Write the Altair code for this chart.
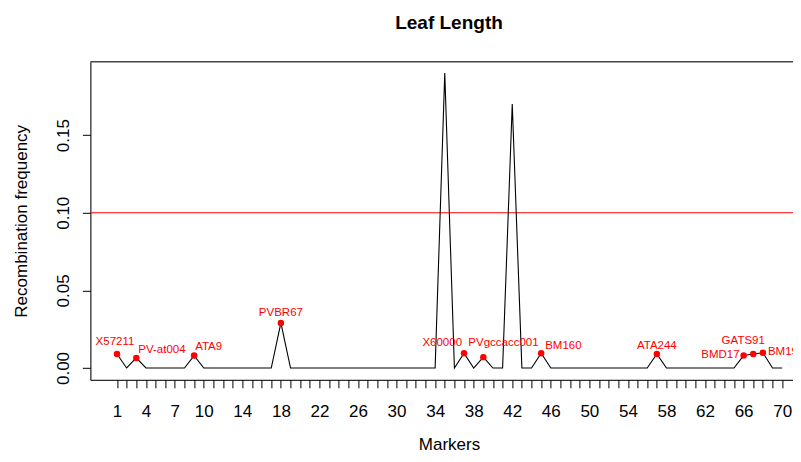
import altair as alt
import pandas as pd

# ---- data ----
markers = list(range(1, 71))
recomb = [0.009, 0, 0.0065, 0, 0, 0, 0, 0, 0.008, 0,
          0, 0, 0, 0, 0, 0, 0, 0.029, 0, 0,
          0, 0, 0, 0, 0, 0, 0, 0, 0, 0,
          0, 0, 0, 0, 0.19, 0, 0.0095, 0, 0.007, 0,
          0, 0.170, 0, 0, 0.0095, 0, 0, 0, 0, 0,
          0, 0, 0, 0, 0, 0, 0.009, 0, 0, 0,
          0, 0, 0, 0, 0, 0.008, 0.009, 0.0098, 0, 0]
label_markers = [1, 3, 9, 18, 37, 39, 45, 57, 66, 67, 68]
label_names = ["X57211", "PV-at004", "ATA9", "PVBR67", "X60000", "PVgccacc001",
               "BM160", "ATA244", "BMD17", "GATS91", "BM197"]
threshold = [0.10]
x_tick_labels = [1, 4, 7, 10, 14, 18, 22, 26, 30, 34, 38, 42, 46, 50, 54, 58, 62, 66, 70]
y_ticks = [0.0, 0.05, 0.10, 0.15]

# ---- styling: label placement (align, dx, dy) ----
label_style = {
    "X57211": ("center", -2, -12),
    "PV-at004": ("left", 2, -8),
    "ATA9": ("left", 1, -9),
    "PVBR67": ("center", 0, -10),
    "X60000": ("right", -2, -10),
    "PVgccacc001": ("left", -15, -14),
    "BM160": ("left", 4, -7),
    "ATA244": ("center", 0, -8),
    "BMD17": ("right", -4, -1),
    "GATS91": ("center", -10, -13),
    "BM197": ("left", 5, -1),
}

FONT = "Liberation Sans"
PAD_L, PAD_T = 82.4, 53.8
SVG_W, SVG_H = 785, 445
W = SVG_W - PAD_L
H = 318
PX_PER_MARKER = 9.64
X_MIN = -1.76
X_MAX = X_MIN + W / PX_PER_MARKER
CENTER_X = 358.6  # centre of the (wider) original plot region, from plot left

line_df = pd.DataFrame({"marker": markers, "rf": recomb})
pts_df = pd.DataFrame({
    "marker": label_markers,
    "rf": [recomb[m - 1] for m in label_markers],
    "name": label_names,
})
thr_df = pd.DataFrame({"rf": threshold})

x_scale = alt.Scale(domain=[X_MIN, X_MAX], nice=False, zero=False)
y_scale = alt.Scale(domain=[-0.0076, 0.1972], nice=False, zero=False)

label_list = ",".join(str(v) for v in x_tick_labels)
x_axis = alt.Axis(
    values=markers,
    labelExpr=f"indexof([{label_list}], datum.value) >= 0 ? datum.label : ''",
    labelOverlap=False, labelFlush=False, labelBound=False,
    grid=False, domain=True, domainColor="black", domainWidth=1,
    tickSize=8, tickColor="black", tickWidth=1,
    labelFont=FONT, labelFontSize=17, labelColor="black",
    labelBaseline="alphabetic", labelPadding=29,
    title="Markers", titleFont=FONT, titleFontSize=17, titleFontWeight="normal",
    titleColor="black", titleBaseline="alphabetic", titleY=70, titleX=CENTER_X,
    titleAlign="center",
)
y_axis = alt.Axis(
    values=y_ticks, format=".2f",
    grid=False, domain=True, domainColor="black", domainWidth=1,
    tickSize=8, tickColor="black", tickWidth=1,
    labelFont=FONT, labelFontSize=17, labelColor="black",
    labelAngle=270, labelAlign="center", labelBaseline="alphabetic", labelPadding=14,
    title="Recombination frequency", titleFont=FONT, titleFontSize=17,
    titleFontWeight="normal", titleColor="black", titleAngle=270,
    titleAlign="center", titleBaseline="alphabetic", titleX=-64, titleY=H / 2,
)


def xenc():
    return alt.X("marker:Q", scale=x_scale, axis=x_axis, title="Markers")


def yenc():
    return alt.Y("rf:Q", scale=y_scale, axis=y_axis, title="Recombination frequency")


line = alt.Chart(line_df).mark_line(color="black", strokeWidth=1.1).encode(x=xenc(), y=yenc())
thr = alt.Chart(thr_df).mark_rule(color="#FF0000", strokeWidth=1.2).encode(y=yenc())
pts = alt.Chart(pts_df).mark_circle(color="#FF0000", size=42, opacity=1).encode(x=xenc(), y=yenc())
top_border = alt.Chart(thr_df).mark_rule(color="black", strokeWidth=1).encode(
    x=alt.value(0), x2=alt.value(W), y=alt.value(0)
)

texts = []
for nm in label_names:
    al, dx, dy = label_style[nm]
    texts.append(
        alt.Chart(pts_df).transform_filter(alt.datum.name == nm)
        .mark_text(align=al, baseline="middle", dx=dx, dy=dy, font=FONT,
                   fontSize=11.5, color="#FF0000")
        .encode(x=xenc(), y=yenc(), text="name:N")
    )

chart = alt.layer(thr, line, pts, top_border, *texts).properties(
    width=W, height=H,
    title=alt.TitleParams(text="Leaf Length", font=FONT, fontSize=19, fontWeight="bold",
                          color="black", anchor="middle", baseline="alphabetic", offset=13,
                          dx=CENTER_X - W / 2),
    autosize=alt.AutoSizeParams(type="none"),
    padding={"left": PAD_L, "top": PAD_T, "right": 0, "bottom": SVG_H - PAD_T - H},
).configure_view(stroke=None).configure(background="white")

chart.save("out.html", embed_options={"renderer": "svg", "actions": False})
